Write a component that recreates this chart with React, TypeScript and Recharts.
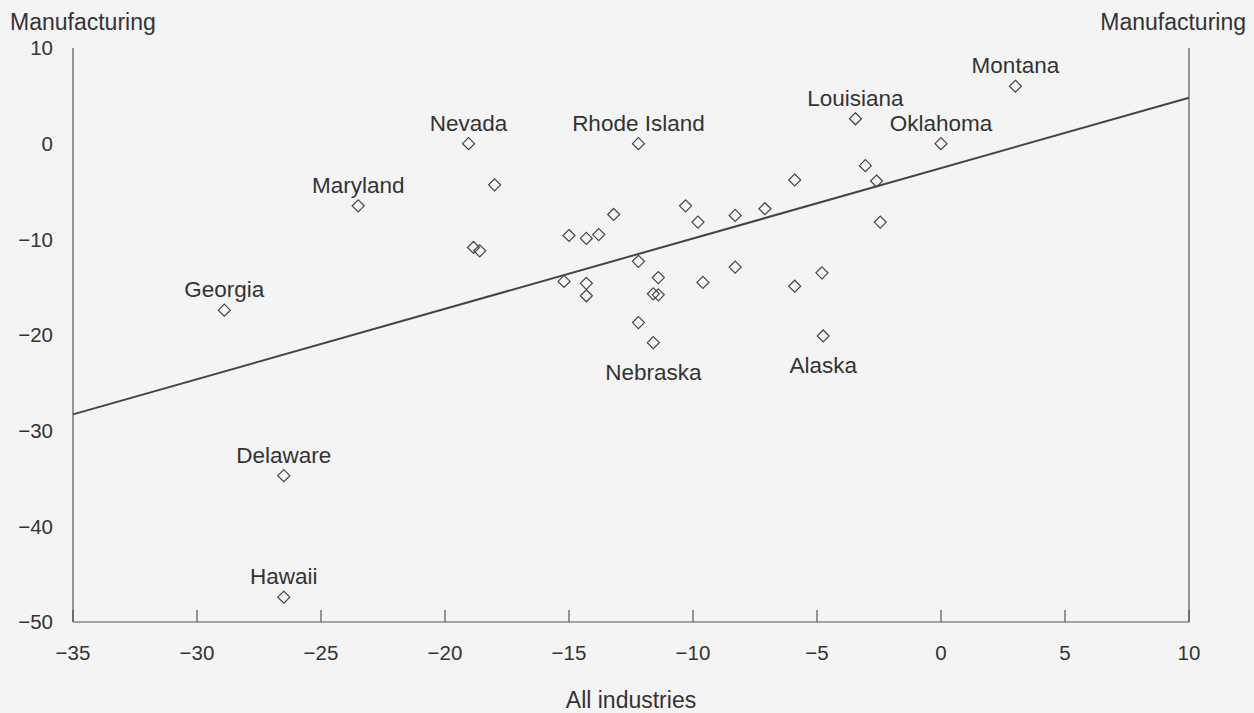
import { ScatterChart, Scatter, XAxis, YAxis, ReferenceLine, LabelList } from "recharts"

// labelled states
const labelledNames = ["Montana", "Louisiana", "Oklahoma", "Nevada", "Rhode Island", "Maryland", "Georgia", "Delaware", "Hawaii", "Nebraska", "Alaska"]
const labelledX = [3.0, -3.45, 0.0, -19.05, -12.2, -23.5, -28.9, -26.5, -26.5, -11.6, -4.75]
const labelledY = [6.0, 2.6, 0.0, 0.0, 0.0, -6.5, -17.4, -34.7, -47.4, -20.8, -20.1]

// the other states
const otherX = [-18.0, -18.85, -18.6, -15.0, -14.3, -13.8, -13.2, -10.3, -9.8, -8.3, -7.1, -5.9, -12.2, -15.2, -14.3, -14.3, -11.4, -11.6, -11.4, -9.6, -8.3, -5.9, -12.2, -3.05, -2.6, -2.45, -4.8]
const otherY = [-4.3, -10.85, -11.2, -9.6, -9.9, -9.5, -7.4, -6.5, -8.2, -7.5, -6.8, -3.8, -12.3, -14.4, -14.6, -15.9, -14.0, -15.7, -15.8, -14.5, -12.9, -14.9, -18.7, -2.3, -3.9, -8.2, -13.5]

// fitted line end points
const fitX = [-35, 10]
const fitY = [-28.3, 4.8]

const xTicks = [-35, -30, -25, -20, -15, -10, -5, 0, 5, 10]
const yTicks = [10, 0, -10, -20, -30, -40, -50]

const labelsBelow = ["Nebraska", "Alaska"]

const labelled = labelledNames.map((name, i) => ({ name, x: labelledX[i], y: labelledY[i] }))
const others = otherX.map((x, i) => ({ x, y: otherY[i] }))
const fit = fitX.map((x, i) => ({ x, y: fitY[i] }))

const INK = "#333"
const LINE = "#555"
const FONT = "'Liberation Sans', Arial, Helvetica, sans-serif"

const fmt = (v: number) => (v < 0 ? "\u2212" + Math.abs(v) : String(v))

function Diamond(props: any) {
  const { cx, cy } = props
  const r = 6
  return (
    <polygon
      points={`${cx},${cy - r} ${cx + r},${cy} ${cx},${cy + r} ${cx - r},${cy}`}
      fill="none"
      stroke="#444"
      strokeWidth={1.2}
    />
  )
}

function XTick(props: any) {
  const { x, y, payload } = props
  return (
    <g>
      <line x1={x} y1={y} x2={x} y2={y - 12} stroke={LINE} strokeWidth={1.2} />
      <text x={x} y={y + 31} dy="0.36em" textAnchor="middle" fill={INK} fontSize={20.5} fontFamily={FONT}>
        {fmt(payload.value)}
      </text>
    </g>
  )
}

function LeftTick(props: any) {
  const { x, y, payload } = props
  return (
    <text x={x} y={y} dy="0.36em" textAnchor="end" fill={INK} fontSize={20.5} fontFamily={FONT}>
      {fmt(payload.value)}
    </text>
  )
}

function RightTick(props: any) {
  const { x, y, payload } = props
  return (
    <text x={x + 30} y={y} dy="0.36em" textAnchor="middle" fill={INK} fontSize={20.5} fontFamily={FONT}>
      {fmt(payload.value)}
    </text>
  )
}

function StateLabel(props: any) {
  const { x, y, width, height, value } = props
  const cx = x + width / 2
  const cy = y + height / 2
  const below = labelsBelow.includes(value)
  return (
    <text
      x={cx}
      y={below ? cy + 29 : cy - 21}
      dy="0.36em"
      textAnchor="middle"
      fill={INK}
      fontSize={22.5}
      fontFamily={FONT}
    >
      {value}
    </text>
  )
}

export default function App() {
  return (
    <div style={{ position: "absolute", left: 0, top: 0, width: 1254, height: 713, background: "#f4f4f4", fontFamily: FONT }}>
      <ScatterChart width={1254} height={713} margin={{ top: 48, right: 5, bottom: 31, left: 13 }}>
        <XAxis
          xAxisId="top"
          orientation="top"
          type="number"
          dataKey="x"
          domain={[-35, 10]}
          tick={false}
          tickLine={false}
          height={0}
          axisLine={{ stroke: LINE, strokeWidth: 1.2 }}
        />
        <XAxis
          type="number"
          dataKey="x"
          domain={[-35, 10]}
          ticks={xTicks}
          interval={0}
          tickSize={0}
          tickMargin={0}
          tickLine={false}
          height={60}
          tick={<XTick />}
          axisLine={{ stroke: LINE, strokeWidth: 1.2 }}
        />
        <YAxis
          type="number"
          dataKey="y"
          domain={[-50, 10]}
          ticks={yTicks}
          interval={0}
          width={60}
          tickSize={0}
          tickMargin={20}
          tickLine={false}
          tick={<LeftTick />}
          axisLine={{ stroke: LINE, strokeWidth: 1.2 }}
        />
        <YAxis
          yAxisId="right"
          orientation="right"
          type="number"
          dataKey="y"
          domain={[-50, 10]}
          ticks={yTicks}
          interval={0}
          width={60}
          tickSize={0}
          tickMargin={0}
          tickLine={false}
          tick={<RightTick />}
          axisLine={{ stroke: LINE, strokeWidth: 1.2 }}
        />
        <ReferenceLine
          segment={fit}
          stroke="#444"
          strokeWidth={2}
          ifOverflow="extendDomain"
        />
        <Scatter data={others} shape={<Diamond />} isAnimationActive={false} />
        <Scatter data={labelled} shape={<Diamond />} isAnimationActive={false}>
          <LabelList dataKey="name" content={<StateLabel />} />
        </Scatter>
        <text x={10} y={22} dy="0.36em" fill={INK} fontSize={23} fontFamily={FONT}>
          Manufacturing
        </text>
        <text x={1246} y={22} dy="0.36em" textAnchor="end" fill={INK} fontSize={23} fontFamily={FONT}>
          Manufacturing
        </text>
        <text x={631} y={700} dy="0.36em" textAnchor="middle" fill={INK} fontSize={23} fontFamily={FONT}>
          All industries
        </text>
      </ScatterChart>
    </div>
  )
}
